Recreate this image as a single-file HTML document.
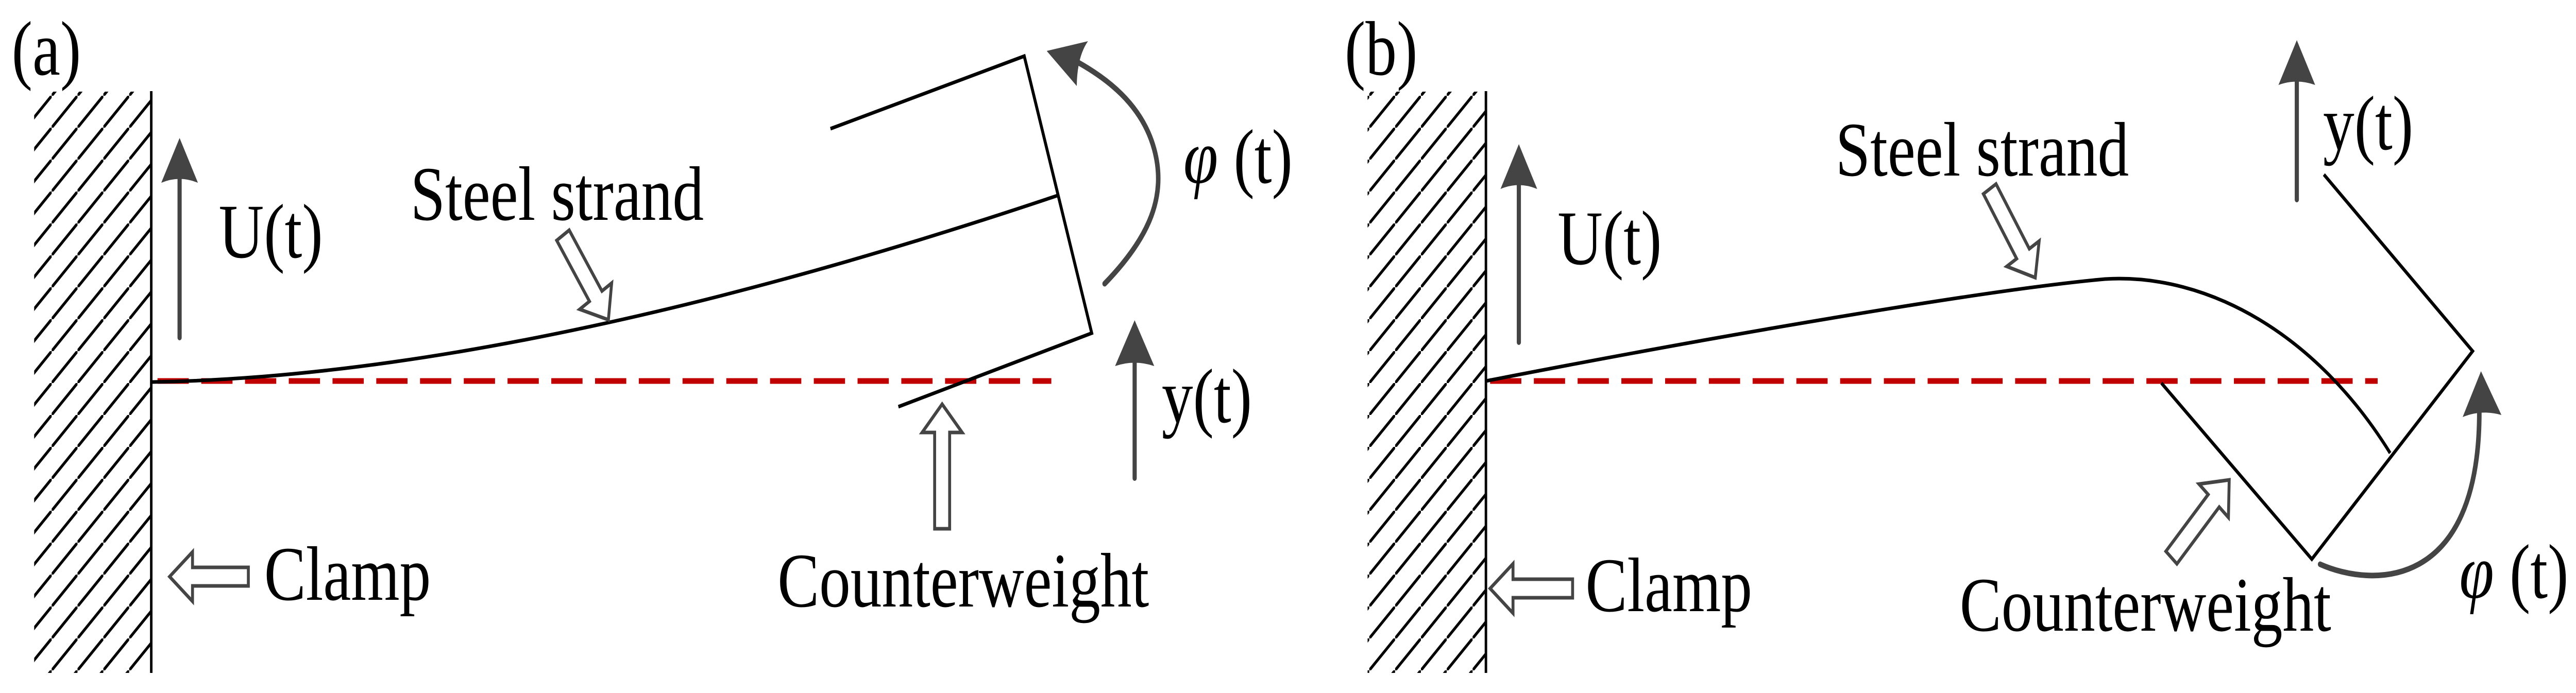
<!DOCTYPE html>
<html><head><meta charset="utf-8"><style>
html,body{margin:0;padding:0;background:#fff;overflow:hidden;width:100%;height:100%;}
svg{display:block;position:fixed;left:0;top:0;width:100vw;height:100vh;}
text{font-family:"Liberation Serif","DejaVu Serif",serif;fill:#000;}
</style></head><body>
<svg viewBox="0 0 6182 1346" preserveAspectRatio="none" xmlns="http://www.w3.org/2000/svg">
<defs>
<pattern id="hatch" patternUnits="userSpaceOnUse" width="62" height="62">
<line x1="-2" y1="64" x2="64" y2="-2" stroke="#000" stroke-width="6"/>
</pattern>
</defs>
<rect width="6182" height="1346" fill="#fff"/>

<!-- Panel A -->
<text x="28" y="145" font-size="150">(a)</text>
<rect x="82" y="178" width="280" height="1129" fill="url(#hatch)"/>
<line x1="363" y1="177" x2="363" y2="1307" stroke="#000" stroke-width="6"/>
<line x1="431" y1="340" x2="431" y2="656" stroke="#444" stroke-width="10" stroke-linecap="round"/>
<path d="M431,268 L475,355 Q431,340 387,355 Z" fill="#444"/>
<text x="525" y="500" font-size="150">U(t)</text>
<text x="985" y="427" font-size="150">Steel strand</text>
<line x1="378" y1="740" x2="2523" y2="740" stroke="#c00000" stroke-width="11" stroke-dasharray="75,30"/>
<path d="M364,742 Q1250,730 2537,380" fill="none" stroke="#000" stroke-width="7"/>
<polyline points="1993,250 2458,109 2620,647 2156,790" fill="none" stroke="#000" stroke-width="7"/>
<path d="M2651,551 C2760,460 2800,380 2770,290 C2740,200 2650,150 2589,122" fill="none" stroke="#444" stroke-width="11" stroke-linecap="round"/>
<path d="M2512,99 L2611,80 Q2585,110 2584,167 Z" fill="#444"/>
<text x="2840" y="355" font-size="150"><tspan font-style="italic">φ</tspan> (t)</text>
<line x1="2723" y1="700" x2="2723" y2="929" stroke="#444" stroke-width="10" stroke-linecap="round"/>
<path d="M2723,622 L2770,711 Q2723,698 2676,711 Z" fill="#444"/>
<text x="2788" y="820" font-size="150">y(t)</text>
<text x="1866" y="1178" font-size="150">Counterweight</text>
<text x="634" y="1165" font-size="150">Clamp</text>
<g fill="#fff" stroke="#444" stroke-width="7">
<path transform="translate(596,1120) rotate(180)" d="M0,-18 L134,-18 L134,-48 L189,0 L134,48 L134,18 L0,18 Z"/>
<path transform="translate(1351,457) rotate(56.4)" d="M0,-18 L142,-18 L142,-46 L197,0 L142,46 L142,18 L0,18 Z"/>
<path transform="translate(2261,1027) rotate(-90)" d="M0,-18 L187,-18 L187,-48 L242,0 L187,48 L187,18 L0,18 Z"/>
</g>

<!-- Panel B -->
<text x="3227" y="145" font-size="150">(b)</text>
<rect x="3282" y="178" width="284" height="1129" fill="url(#hatch)"/>
<line x1="3566" y1="177" x2="3566" y2="1307" stroke="#000" stroke-width="6"/>
<line x1="3645" y1="350" x2="3645" y2="665" stroke="#444" stroke-width="10" stroke-linecap="round"/>
<path d="M3645,280 L3689,367 Q3645,352 3601,367 Z" fill="#444"/>
<text x="3738" y="513" font-size="150">U(t)</text>
<text x="4405" y="341" font-size="150">Steel strand</text>
<line x1="3576" y1="740" x2="5706" y2="740" stroke="#c00000" stroke-width="11" stroke-dasharray="75,30"/>
<path d="M3566,740 C4200,640 4800,560 5052,542 C5300,530 5560,650 5736,880" fill="none" stroke="#000" stroke-width="7"/>
<polyline points="5577,339 5934,682 5548,1086 5187,744" fill="none" stroke="#000" stroke-width="7"/>
<line x1="5512" y1="150" x2="5512" y2="388" stroke="#444" stroke-width="10" stroke-linecap="round"/>
<path d="M5512,78 L5556,165 Q5512,152 5468,165 Z" fill="#444"/>
<text x="5575" y="290" font-size="150">y(t)</text>
<path d="M5568,1096 C5690,1140 5950,1150 5950,800" fill="none" stroke="#444" stroke-width="11" stroke-linecap="round"/>
<path d="M5954,721 L6003,806 Q5955,795 5910,810 Z" fill="#444"/>
<text x="5902" y="1161" font-size="150"><tspan font-style="italic">φ</tspan> (t)</text>
<text x="4703" y="1225" font-size="150">Counterweight</text>
<text x="3805" y="1187" font-size="150">Clamp</text>
<g fill="#fff" stroke="#444" stroke-width="7">
<path transform="translate(3774,1143) rotate(180)" d="M0,-18 L143,-18 L143,-48 L198,0 L143,48 L143,18 L0,18 Z"/>
<path transform="translate(4775,367) rotate(57.6)" d="M0,-18 L149,-18 L149,-46 L204,0 L149,46 L149,18 L0,18 Z"/>
<path transform="translate(5211,1083) rotate(-47.4)" d="M0,-18 L150,-18 L150,-48 L205,0 L150,48 L150,18 L0,18 Z"/>
</g>
</svg>
</body></html>
